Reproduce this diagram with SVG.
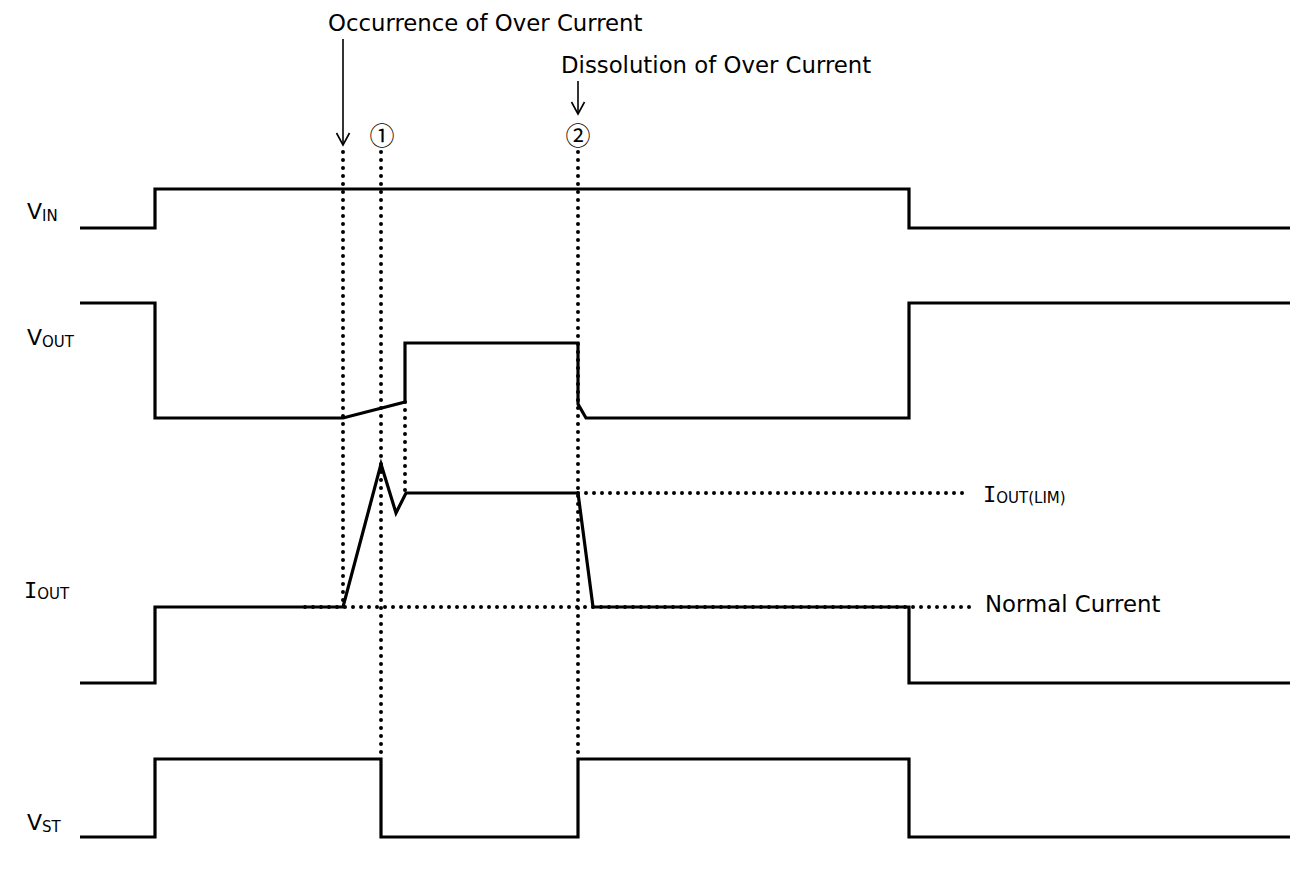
<svg xmlns="http://www.w3.org/2000/svg" width="1294" height="874" viewBox="0 0 1294 874">
<style>
.wave{fill:none;stroke:#000;stroke-width:3.2;stroke-linejoin:miter}
.dot{fill:none;stroke:#000;stroke-width:4;stroke-linecap:round;stroke-dasharray:0 8}
.arr{fill:none;stroke:#000;stroke-width:1.6}
text{font-family:"DejaVu Sans","Liberation Sans",sans-serif;fill:#000}
.lbl{font-size:22.8px}
.sig{font-size:22px}
.sub{font-size:15px}
.mono{font-family:"DejaVu Sans Mono","Liberation Mono",monospace}
.circ{font-family:"Noto Sans CJK JP","DejaVu Sans",sans-serif;font-size:25px}
</style>
<defs>
<marker id="head" markerUnits="userSpaceOnUse" markerWidth="16" markerHeight="16" viewBox="-14 -8 16 16" refX="0" refY="0" orient="auto">
<path d="M-12,-6.5 L0,0 L-12,6.5" fill="none" stroke="#000" stroke-width="1.6"/>
</marker>
</defs>
<rect width="1294" height="874" fill="#fff"/>

<g id="connectors">
<path class="dot" d="M343,152 V607"/>
<path class="dot" d="M381,152 V759"/>
<path class="dot" d="M405,402 V493"/>
<path class="dot" d="M578,152 V759"/>
<path class="dot" d="M305,607 H970"/>
<path class="dot" d="M578,493 H965"/>
<path class="arr" d="M343,39 V145" marker-end="url(#head)"/>
<path class="arr" d="M578,81 V114" marker-end="url(#head)"/>
</g>

<g id="vin">
<path class="wave" d="M80,228 H155 V189 H909 V228 H1290"/>
<text class="sig" x="27" y="219">V<tspan class="sub" dy="2">IN</tspan></text>
</g>
<g id="vout">
<path class="wave" d="M80,303 H155 V418 H343 L405,402 V343 H578 V404 L586,418 H909 V303 H1290"/>
<text class="sig" x="27" y="345">V<tspan class="sub" dy="2">OUT</tspan></text>
</g>
<g id="iout">
<path class="wave" d="M80,683 H155 V607 H343 L381,464 L396,513 L406,493 H578 L593,607 H909 V683 H1290"/>
<text class="sig" x="24" y="598"><tspan class="mono">I</tspan><tspan class="sub" dy="1">OUT</tspan></text>
</g>
<g id="vst">
<path class="wave" d="M80,837 H155 V759 H381 V837 H578 V759 H909 V837 H1290"/>
<text class="sig" x="27" y="830">V<tspan class="sub" dy="2">ST</tspan></text>
</g>

<g id="label-occurrence">
<text class="lbl" x="328" y="31">Occurrence of Over Current</text>
</g>
<g id="label-dissolution">
<text class="lbl" x="561" y="73">Dissolution of Over Current</text>
</g>
<g id="marker-1">
<text class="circ" x="382" y="145" text-anchor="middle">①</text>
</g>
<g id="marker-2">
<text class="circ" x="578" y="145" text-anchor="middle">②</text>
</g>
<g id="label-ioutlim">
<text class="sig" x="983" y="502"><tspan class="mono">I</tspan><tspan class="sub" dy="1">OUT(LIM)</tspan></text>
</g>
<g id="label-normal">
<text class="lbl" x="985" y="612">Normal Current</text>
</g>
</svg>
